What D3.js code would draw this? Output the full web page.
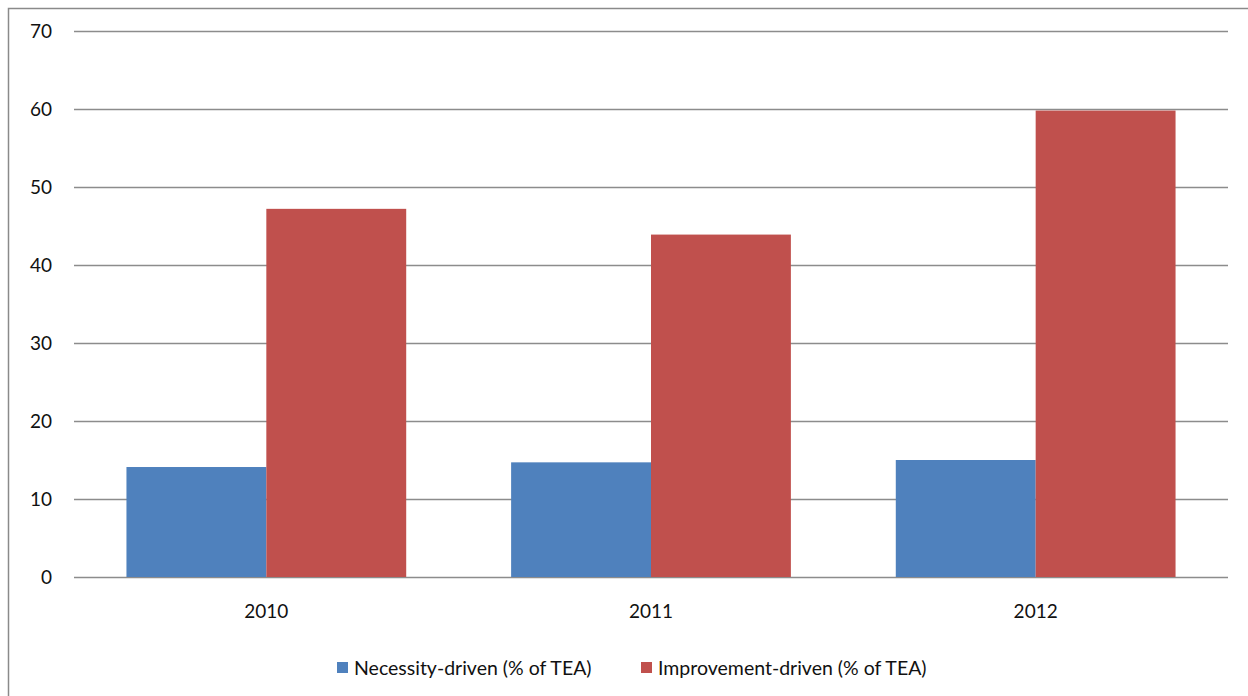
<!DOCTYPE html>
<html>
<head>
<meta charset="utf-8">
<script src="https://cdn.jsdelivr.net/npm/d3@7"></script>
<style>
  html, body { margin: 0; padding: 0; background: #fff; }
  svg { display: block; }
  text { font-family: Lato, "Open Sans", sans-serif; fill: #111; }
</style>
</head>
<body>
<svg id="chart" width="1248" height="696"></svg>
<script>
// Entrepreneurial activity motives, share of TEA
const years = ["2010", "2011", "2012"];
const necessity = [14.1, 14.7, 15.0];
const improvement = [47.2, 43.9, 59.8];
const seriesNames = ["Necessity-driven (% of TEA)", "Improvement-driven (% of TEA)"];
const seriesColors = ["#4F81BD", "#C0504D"];
const yTicks = [0, 10, 20, 30, 40, 50, 60, 70];

const svg = d3.select("#chart");
const W = 1248, H = 696;
const plot = { left: 74, right: 1228, top: 31, bottom: 577 };

// outer frame (right and bottom edges fall outside the canvas)
svg.append("rect")
  .attr("x", 8.5).attr("y", 8.5)
  .attr("width", W + 20).attr("height", H + 20)
  .attr("fill", "none").attr("stroke", "#8a8a8a").attr("stroke-width", 1.5);

const y = d3.scaleLinear().domain([0, 70]).range([plot.bottom, plot.top]);
const x0 = d3.scaleBand().domain(years).range([plot.left, plot.right]).paddingInner(0).paddingOuter(0);
// two bars per group with a 75% gap: bar width = band / 2.75
const barW = x0.bandwidth() / 2.75;
const x1 = d3.scaleBand().domain([0, 1])
  .range([0, 2 * barW]);

// horizontal gridlines
const yAxis = d3.axisLeft(y).tickValues(yTicks)
  .tickSize(-(plot.right - plot.left)).tickPadding(22).tickFormat(d3.format("d"));
const gy = svg.append("g").attr("transform", `translate(${plot.left},0)`).call(yAxis);
gy.select(".domain").remove();
gy.selectAll(".tick line").attr("stroke", "#8c8c8c").attr("stroke-width", 1.6);
gy.selectAll(".tick text").attr("font-size", 19).style("font-family", "Lato, sans-serif").attr("fill", "#111");

// bars
const series = [necessity, improvement];
const groups = svg.append("g").selectAll("g")
  .data(years)
  .join("g")
  .attr("transform", d => `translate(${x0(d) + (x0.bandwidth() - 2 * barW) / 2},0)`);

groups.selectAll("rect")
  .data((d, i) => series.map((s, k) => ({ k, v: s[i] })))
  .join("rect")
  .attr("x", d => x1(d.k))
  .attr("width", x1.bandwidth())
  .attr("y", d => y(d.v))
  .attr("height", d => y(0) - y(d.v))
  .attr("fill", d => seriesColors[d.k]);

// category labels
const xAxis = d3.axisBottom(x0).tickSize(0).tickPadding(28);
const gx = svg.append("g").attr("transform", `translate(0,${plot.bottom})`).call(xAxis);
gx.select(".domain").remove();
gx.selectAll(".tick text").attr("font-size", 19).style("font-family", "Lato, sans-serif").attr("fill", "#111");

// legend
const legendItems = [
  { name: seriesNames[0], color: seriesColors[0], x: 337 },
  { name: seriesNames[1], color: seriesColors[1], x: 641 }
];
const lg = svg.append("g").selectAll("g").data(legendItems).join("g")
  .attr("transform", d => `translate(${d.x},668)`);
lg.append("rect").attr("x", 0).attr("y", -6).attr("width", 11).attr("height", 11)
  .attr("fill", d => d.color);
lg.append("text").attr("x", 17).attr("y", 0).attr("dy", "0.35em")
  .attr("font-size", 19.5).text(d => d.name);
</script>
</body>
</html>
